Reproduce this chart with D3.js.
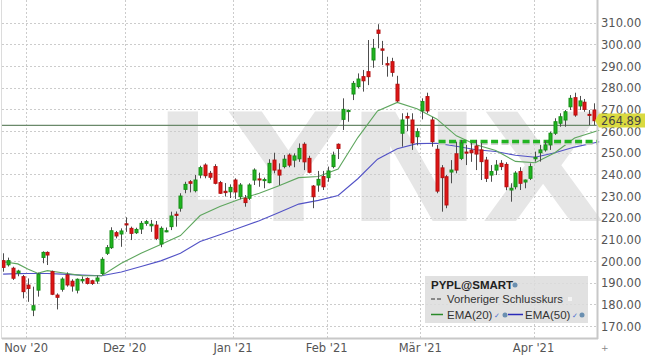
<!DOCTYPE html>
<html><head><meta charset="utf-8">
<script src="https://cdn.jsdelivr.net/npm/d3@7"></script>
<style>body{margin:0;background:#fff;overflow:hidden}svg{display:block}</style>
</head><body><svg id="c" width="645" height="358"></svg>
<script>
// ---- data ----
const firstDay = "2020-10-26", lastDay = "2021-04-20";
const holidays = ["2020-11-26","2020-12-25","2021-01-01","2021-01-18","2021-02-15","2021-04-02"];
const open  = [200.2,198.3,196.7,194.5,192.8,188.9,177.4,186.6,201.7,204.0,195.1,184.3,187.0,193.6,190.7,186.6,190.9,192.0,190.9,190.8,
  194.3,203.6,206.2,213.1,212.5,217.2,215.1,213.1,214.8,217.4,216.3,216.6,207.9,213.5,215.9,221.6,224.4,233.1,236.6,232.5,
  239.7,244.3,240.5,243.6,236.2,232.2,232.0,237.4,229.7,229.0,229.0,237.4,237.9,237.2,236.2,246.6,242.0,243.6,248.9,246.6,
  247.2,253.9,247.4,234.6,235.1,239.0,238.5,243.6,253.9,265.4,269.0,277.1,280.5,285.1,287.4,292.8,306.6,297.9,291.1,292.0,
  281.6,259.0,266.7,265.1,257.4,269.3,275.9,265.1,251.6,243.0,238.9,241.1,249.5,247.4,250.3,251.2,253.1,251.3,246.6,239.7,
  242.0,245.1,244.6,232.8,234.3,241.3,236.5,238.2,247.2,250.0,251.3,253.6,259.0,263.6,265.1,271.2,275.4,271.6,273.3,267.7,
  269.7,261.3];
const high  = [203.6,201.6,197.4,196.0,193.6,192.0,188.2,194.6,204.5,204.5,195.6,185.1,192.5,194.8,191.6,192.0,192.9,192.5,191.4,193.3,
  201.8,207.4,215.6,213.9,215.1,220.2,215.9,215.4,218.5,219.0,219.0,218.5,216.0,215.5,222.8,222.9,231.3,236.6,237.4,239.7,
  244.0,245.1,241.6,244.7,237.0,236.0,235.4,238.2,236.0,230.5,235.9,242.8,240.8,238.5,247.0,250.0,245.1,248.9,249.7,249.7,
  254.3,254.8,248.6,235.1,241.6,241.6,243.6,250.5,254.3,275.1,270.0,283.1,286.6,288.2,302.0,302.5,309.3,301.6,294.3,293.8,
  285.5,268.2,268.5,268.2,261.3,275.1,277.7,266.5,253.6,244.3,239.7,246.6,255.1,255.9,253.6,254.5,255.9,254.5,248.1,244.3,
  246.6,246.6,245.6,235.9,241.5,243.3,237.6,245.1,250.5,253.6,255.5,259.7,265.9,268.2,269.7,276.6,277.7,276.2,274.8,269.7,
  272.8,265.9];
const low   = [195.1,197.5,191.3,193.0,182.8,181.2,174.6,183.6,199.0,198.2,184.3,177.7,185.9,188.2,185.9,185.1,189.8,189.2,189.0,189.5,
  193.6,202.8,205.6,210.5,206.6,213.5,209.7,212.5,212.5,216.3,213.5,209.7,206.4,213.3,214.3,215.9,222.8,231.3,231.7,231.7,
  238.2,238.2,237.6,235.4,231.0,229.8,229.1,228.7,228.5,225.1,228.2,235.1,234.3,233.6,235.9,240.5,235.1,242.8,243.3,243.3,
  245.8,242.0,240.5,224.4,232.0,232.8,236.6,242.8,247.1,260.5,264.3,274.3,279.7,278.2,281.2,289.2,298.2,290.5,285.1,285.1,
  273.3,252.8,260.0,251.3,253.4,265.4,268.2,252.8,231.3,222.8,224.4,235.9,240.5,246.6,244.3,245.8,242.0,237.4,236.5,236.6,
  239.7,242.0,232.7,227.4,233.1,232.8,233.6,237.4,245.9,245.9,250.5,251.3,258.2,262.0,262.0,269.7,266.6,269.7,268.9,262.8,
  262.8,259.7];
const close = [197.1,200.2,192.1,195.4,185.9,187.4,179.4,194.0,204.0,202.8,184.7,183.3,191.7,189.0,188.5,191.6,191.5,189.7,189.7,192.2,
  200.8,206.2,214.0,211.6,213.9,216.7,212.8,214.6,217.4,218.2,217.0,210.5,215.1,214.0,220.8,221.1,230.0,235.4,235.9,237.4,
  243.1,239.4,238.7,235.9,231.3,231.6,234.0,231.9,235.1,227.0,235.1,242.0,237.5,237.6,245.1,242.0,239.7,247.0,244.3,248.5,
  252.0,245.8,241.0,229.7,237.7,234.3,241.6,248.9,252.0,270.0,269.5,282.0,284.0,283.2,285.1,298.2,305.1,297.3,290.5,287.1,
  273.9,265.1,266.0,254.5,259.7,273.6,269.3,255.1,232.3,238.5,225.9,242.0,242.0,254.5,249.8,250.0,249.4,245.9,238.2,241.3,
  244.3,243.6,234.3,233.6,240.6,235.9,237.4,243.6,247.9,251.3,253.6,259.0,264.3,266.6,268.9,275.1,267.4,273.9,270.0,267.4,
  264.8,264.89];
// indicator readings (trading-day index -> value)
const emaDays = [0,3,5,7,9,12,16,20,24,28,32,36,40,44,48,52,56,60,64,68,72,76,80,84,88,92,96,100,104,108,112,116,121];
const ema20 = [199.7,198.7,196.3,194.4,195.6,194.6,193.3,193.2,199.0,203.6,207.7,211.8,221.0,225.2,228.5,231.3,234.8,238.5,239.0,242.5,257.0,269.3,273.2,270.3,265.6,257.8,253.7,251.0,246.0,245.4,250.0,256.8,260.4];
const ema50 = [194.0,194.2,194.3,194.3,194.3,194.0,193.5,193.2,195.0,197.5,200.1,203.6,209.0,212.2,215.4,218.6,222.4,226.3,228.0,230.3,238.0,247.0,251.8,254.2,254.4,253.0,251.4,250.6,248.8,247.9,250.0,252.6,255.1];
const yTicks = [170,180,190,200,210,220,230,240,250,260,270,280,290,300,310];
const monthTicks = [["2020-11-02","Nov '20"],["2020-12-01","Dez '20"],["2021-01-04","Jan '21"],["2021-02-01","Feb '21"],["2021-03-01","Mär '21"],["2021-04-01","Apr '21"]];
const lastPrice = 264.89, prevClose = 262.6, supportLevel = 255.2, supportFrom = "2021-03-05";
const symbol = "PYPL@SMART";

// ---- trading days ----
const days = [];
for (let d = new Date(firstDay+"T12:00:00Z"); d <= new Date(lastDay+"T12:00:00Z"); d.setUTCDate(d.getUTCDate()+1)) {
  const s = d.toISOString().slice(0,10), wd = d.getUTCDay();
  if (wd>0 && wd<6 && !holidays.includes(s)) days.push(s);
}
const idx = s => days.indexOf(s);

const svg = d3.select("#c");
const x = d3.scaleLinear().domain([0, days.length-1]).range([3.1, 594.3]);
const y = d3.scaleLinear().domain([170, 310]).range([326.1, 22.7]);
const font = "DejaVu Sans, Verdana, sans-serif";

// watermark (behind grid)
svg.append("text").attr("x",153).attr("y",221).text("LYNX")
  .attr("font-family","DejaVu Sans").attr("font-weight","bold").attr("font-size",150)
  .attr("textLength",452).attr("lengthAdjust","spacingAndGlyphs").attr("fill","#e6e6e6");

// grid
const g = svg.append("g");
g.selectAll("line.h").data(yTicks).join("line")
  .attr("x1",2).attr("x2",597).attr("y1",d=>Math.round(y(d))+0.5).attr("y2",d=>Math.round(y(d))+0.5)
  .attr("stroke","#cccccc").attr("stroke-dasharray","2,2");
g.selectAll("line.v").data(monthTicks).join("line")
  .attr("y1",0).attr("y2",338).attr("x1",d=>Math.round(x(idx(d[0])-0.33))+0.5).attr("x2",d=>Math.round(x(idx(d[0])-0.33))+0.5)
  .attr("stroke","#cccccc").attr("stroke-dasharray","2,2");

// prev close line
svg.append("line").attr("x1",2).attr("x2",597).attr("y1",y(prevClose)).attr("y2",y(prevClose))
  .attr("stroke","#6a896a").attr("stroke-width",1.3);

// EMAs
const line = d3.line().x(d=>x(d[0])).y(d=>y(d[1]));
svg.append("path").attr("d", line(emaDays.map((d,i)=>[d, ema50[i]]))).attr("fill","none").attr("stroke","#5252c6").attr("stroke-width",1.1);
svg.append("path").attr("d", line(emaDays.map((d,i)=>[d, ema20[i]]))).attr("fill","none").attr("stroke","#5ea65e").attr("stroke-width",1.1);

// support dashed line
svg.append("line").attr("x1",x(idx(supportFrom))-3).attr("x2",597).attr("y1",y(supportLevel)+2).attr("y2",y(supportLevel)+2)
  .attr("stroke","#d0d0d0").attr("stroke-width",3).attr("stroke-dasharray","7,3.5");
svg.append("line").attr("x1",x(idx(supportFrom))-3).attr("x2",597).attr("y1",y(supportLevel)).attr("y2",y(supportLevel))
  .attr("stroke","#22b422").attr("stroke-width",3.5).attr("stroke-dasharray","7,3.5");

// candles
const cg = svg.append("g");
days.forEach((d,i)=>{
  const cx = Math.round(x(i));
  const up = close[i] >= open[i];
  cg.append("line").attr("x1",cx+0.5).attr("x2",cx+0.5).attr("y1",y(high[i])).attr("y2",y(low[i]))
    .attr("stroke","#4d4d4d").attr("stroke-width",1);
  const top = y(Math.max(open[i],close[i])), bot = y(Math.min(open[i],close[i]));
  cg.append("rect").attr("x",cx-1).attr("width",3).attr("y",top).attr("height",Math.max(1,bot-top))
    .attr("fill", up ? "#1fb51f" : "#e01515").attr("stroke", up ? "#179017" : "#b51010").attr("stroke-width",1);
});

// axes
svg.append("line").attr("x1",597.5).attr("x2",597.5).attr("y1",0).attr("y2",339).attr("stroke","#c8c8c8").attr("stroke-width",2);
svg.append("line").attr("x1",2).attr("x2",598).attr("y1",338.5).attr("y2",338.5).attr("stroke","#c8c8c8").attr("stroke-width",2);
svg.append("line").attr("x1",1.5).attr("x2",1.5).attr("y1",0).attr("y2",339).attr("stroke","#dcdcdc").attr("stroke-width",1);

svg.selectAll("text.yl").data(yTicks).join("text").attr("x",601).attr("y",d=>y(d)+4.5)
  .text(d=>d3.format(".2f")(d)).attr("font-family",font).attr("font-size",11.5).attr("fill","#555");
svg.selectAll("text.xl").data(monthTicks).join("text").attr("x",d=>x(idx(d[0])-0.33)).attr("y",352)
  .attr("text-anchor","middle").text(d=>d[1]).attr("font-family",font).attr("font-size",11.5).attr("fill","#555");
svg.append("text").attr("x",601).attr("y",351).text("+").attr("font-family",font).attr("font-size",9).attr("fill","#888");

// price label
const py = y(lastPrice);
svg.append("path").attr("d",`M595,${py} L599,${py-7} L645,${py-7} L645,${py+7} L599,${py+7} Z`).attr("fill","#dada40");
svg.append("text").attr("x",601).attr("y",py+4.5).text(d3.format(".2f")(lastPrice))
  .attr("font-family",font).attr("font-size",11.5).attr("fill","#444");

// legend
const lf = "Liberation Sans, Arial, sans-serif";
const lg = svg.append("g");
lg.append("rect").attr("x",425).attr("y",276).attr("width",163).attr("height",47).attr("fill","#dcdcdc").attr("opacity",0.85);
lg.append("text").attr("x",431).attr("y",289).text(symbol).attr("font-family",lf).attr("font-weight","bold").attr("font-size",11.5).attr("fill","#222");
lg.append("circle").attr("cx",515).attr("cy",285).attr("r",2.5).attr("fill","#6a8fb0");
lg.append("line").attr("x1",431).attr("x2",443).attr("y1",299).attr("y2",299).attr("stroke","#333").attr("stroke-dasharray","4,2");
lg.append("text").attr("x",447).attr("y",303).text("Vorheriger Schlusskurs").attr("font-family",lf).attr("font-size",11.7)
  .attr("textLength",116).attr("lengthAdjust","spacingAndGlyphs").attr("fill","#333");
lg.append("rect").attr("x",568).attr("y",297).attr("width",4).attr("height",4).attr("fill","#f4f4f4");
lg.append("line").attr("x1",431).attr("x2",443).attr("y1",314.5).attr("y2",314.5).attr("stroke","#2a8a2a").attr("stroke-width",1.5);
lg.append("text").attr("x",447).attr("y",319).text("EMA(20)").attr("font-family",lf).attr("font-size",11.5).attr("fill","#333");
lg.append("text").attr("x",494).attr("y",318).text("✓").attr("font-family","DejaVu Sans").attr("font-size",7).attr("fill","#4a6fd0");
lg.append("circle").attr("cx",505).attr("cy",315).attr("r",2.5).attr("fill","#6a8fb0");
lg.append("line").attr("x1",508).attr("x2",523).attr("y1",314.5).attr("y2",314.5).attr("stroke","#2a2ab8").attr("stroke-width",1.5);
lg.append("text").attr("x",525).attr("y",319).text("EMA(50)").attr("font-family",lf).attr("font-size",11.5).attr("fill","#333");
lg.append("text").attr("x",572).attr("y",318).text("✓").attr("font-family","DejaVu Sans").attr("font-size",7).attr("fill","#4a6fd0");
lg.append("circle").attr("cx",582).attr("cy",315).attr("r",2.5).attr("fill","#6a8fb0");
</script></body></html>
